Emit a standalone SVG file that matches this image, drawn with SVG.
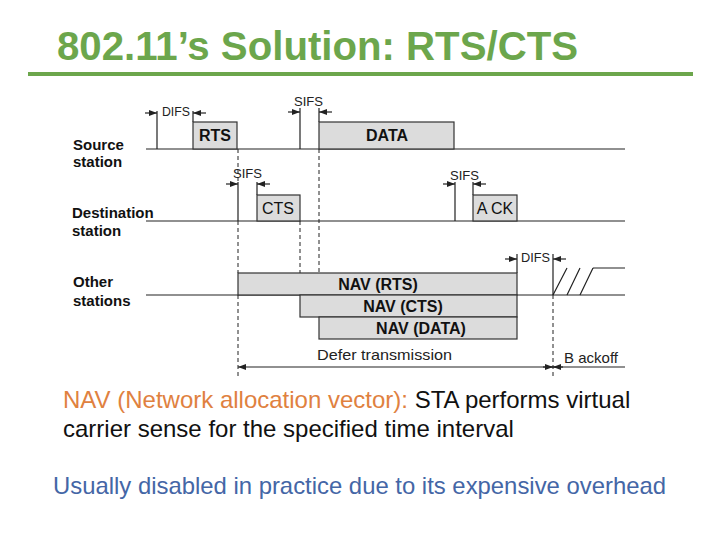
<svg xmlns="http://www.w3.org/2000/svg" width="720" height="540" viewBox="0 0 720 540">
<defs>
<marker id="ah" viewBox="0 0 8 6" refX="8" refY="3" markerWidth="8" markerHeight="6" markerUnits="userSpaceOnUse" orient="auto"><path d="M0,0 L8,3 L0,6 z" fill="#222"/></marker>
<style>
.ln{stroke:#222;stroke-width:1.2;fill:none}
.ds{stroke:#222;stroke-width:1;fill:none;stroke-dasharray:4,3}
.ar{stroke:#222;stroke-width:1.2;fill:none;marker-end:url(#ah)}
.box{fill:#dcdcdc;stroke:#333;stroke-width:1.2}
.lbl{font-family:"Liberation Sans",Arial,sans-serif;font-size:15px;font-weight:bold;fill:#111}
.sm{font-family:"Liberation Sans",Arial,sans-serif;font-size:12px;fill:#222}
.bt{font-family:"Liberation Sans",Arial,sans-serif;font-size:16px;font-weight:bold;fill:#111;text-anchor:middle}
.rt{font-family:"Liberation Sans",Arial,sans-serif;font-size:16px;fill:#111;text-anchor:middle}
.body{font-family:"Liberation Sans",Arial,sans-serif;font-size:24px}
</style>
</defs>
<rect width="720" height="540" fill="#fff"/>
<g id="title">
<text x="57" y="60" font-family="'Liberation Sans',Arial,sans-serif" font-size="40" font-weight="bold" fill="#6ca64c" textLength="521" lengthAdjust="spacingAndGlyphs">802.11’s Solution: RTS/CTS</text>
<rect x="28" y="72" width="665" height="4" fill="#6ca64c"/>
</g>
<g id="labels">
<text class="lbl" x="73" y="150">Source</text>
<text class="lbl" x="73" y="167">station</text>
<text class="lbl" x="72" y="218">Destination</text>
<text class="lbl" x="72" y="236">station</text>
<text class="lbl" x="73" y="287">Other</text>
<text class="lbl" x="73" y="306">stations</text>
</g>
<g id="connectors">
<path class="ln" d="M146,149 H625 M146,221 H625 M146,295 H625"/>
<path class="ln" d="M157,111 V149 M193,111 V122 M300,108 V149 M319,108 V122 M238,182 V221 M257,182 V195 M455,182 V221 M473,182 V195 M517,254 V273 M553,254 V295"/>
<path class="ds" d="M238,149 V182 M238,221 V273 M238,295 V376 M300,221 V295 M319,149 V317 M553,295 V376"/>
<path class="ar" d="M145,113 H157"/>
<path class="ar" d="M206,113 H193"/>
<path class="ar" d="M288,112 H300"/>
<path class="ar" d="M332,112 H319"/>
<path class="ar" d="M226,184 H238"/>
<path class="ar" d="M270,184 H257"/>
<path class="ar" d="M443,184 H455"/>
<path class="ar" d="M486,184 H473"/>
<path class="ar" d="M505,259 H517"/>
<path class="ar" d="M566,259 H553"/>
<path class="ln" d="M553,295 L567,268 M567,295 L580,268 M580,295 L593,268 M593,268 H625"/>
<path class="ar" d="M625,367 H238"/>
<path class="ar" d="M543,367 H553"/>
<path class="ar" d="M563,367 H553"/>
<text class="sm" x="162" y="116" textLength="28" lengthAdjust="spacingAndGlyphs">DIFS</text>
<text class="sm" x="294" y="106" textLength="29" lengthAdjust="spacingAndGlyphs">SIFS</text>
<text class="sm" x="233" y="178" textLength="29" lengthAdjust="spacingAndGlyphs">SIFS</text>
<text class="sm" x="450" y="180" textLength="29" lengthAdjust="spacingAndGlyphs">SIFS</text>
<text class="sm" x="521" y="262" textLength="29" lengthAdjust="spacingAndGlyphs">DIFS</text>
</g>
<g id="rts"><rect class="box" x="193" y="122" width="44" height="27"/><text class="bt" x="215" y="141">RTS</text></g>
<g id="data"><rect class="box" x="319" y="122" width="135" height="27"/><text class="bt" x="387" y="141">DATA</text></g>
<g id="cts"><rect class="box" x="257" y="195" width="43" height="26"/><text class="rt" x="278" y="214">CTS</text></g>
<g id="ack"><rect class="box" x="473" y="195" width="44" height="26"/><text class="rt" x="495" y="214">A CK</text></g>
<g id="nav-rts"><rect class="box" x="238" y="273" width="279" height="22"/><text class="bt" x="378" y="290">NAV (RTS)</text></g>
<g id="nav-cts"><rect class="box" x="300" y="295" width="217" height="22"/><text class="bt" x="403" y="312">NAV (CTS)</text></g>
<g id="nav-data"><rect class="box" x="319" y="317" width="198" height="22"/><text class="bt" x="421" y="334">NAV (DATA)</text></g>
<g id="defer"><text x="317" y="360" font-family="'Liberation Sans',Arial,sans-serif" font-size="15" fill="#222" textLength="135" lengthAdjust="spacingAndGlyphs">Defer transmission</text></g>
<g id="backoff"><text x="564" y="363" font-family="'Liberation Sans',Arial,sans-serif" font-size="15" fill="#222" textLength="54" lengthAdjust="spacingAndGlyphs">B ackoff</text></g>
<g id="body">
<text class="body" x="63" y="408" fill="#111"><tspan fill="#e0813f">NAV (Network allocation vector):</tspan> STA performs virtual</text>
<text class="body" x="63" y="437" fill="#111">carrier sense for the specified time interval</text>
<text class="body" x="53" y="494" fill="#4466a6" textLength="613" lengthAdjust="spacingAndGlyphs">Usually disabled in practice due to its expensive overhead</text>
</g>
</svg>
